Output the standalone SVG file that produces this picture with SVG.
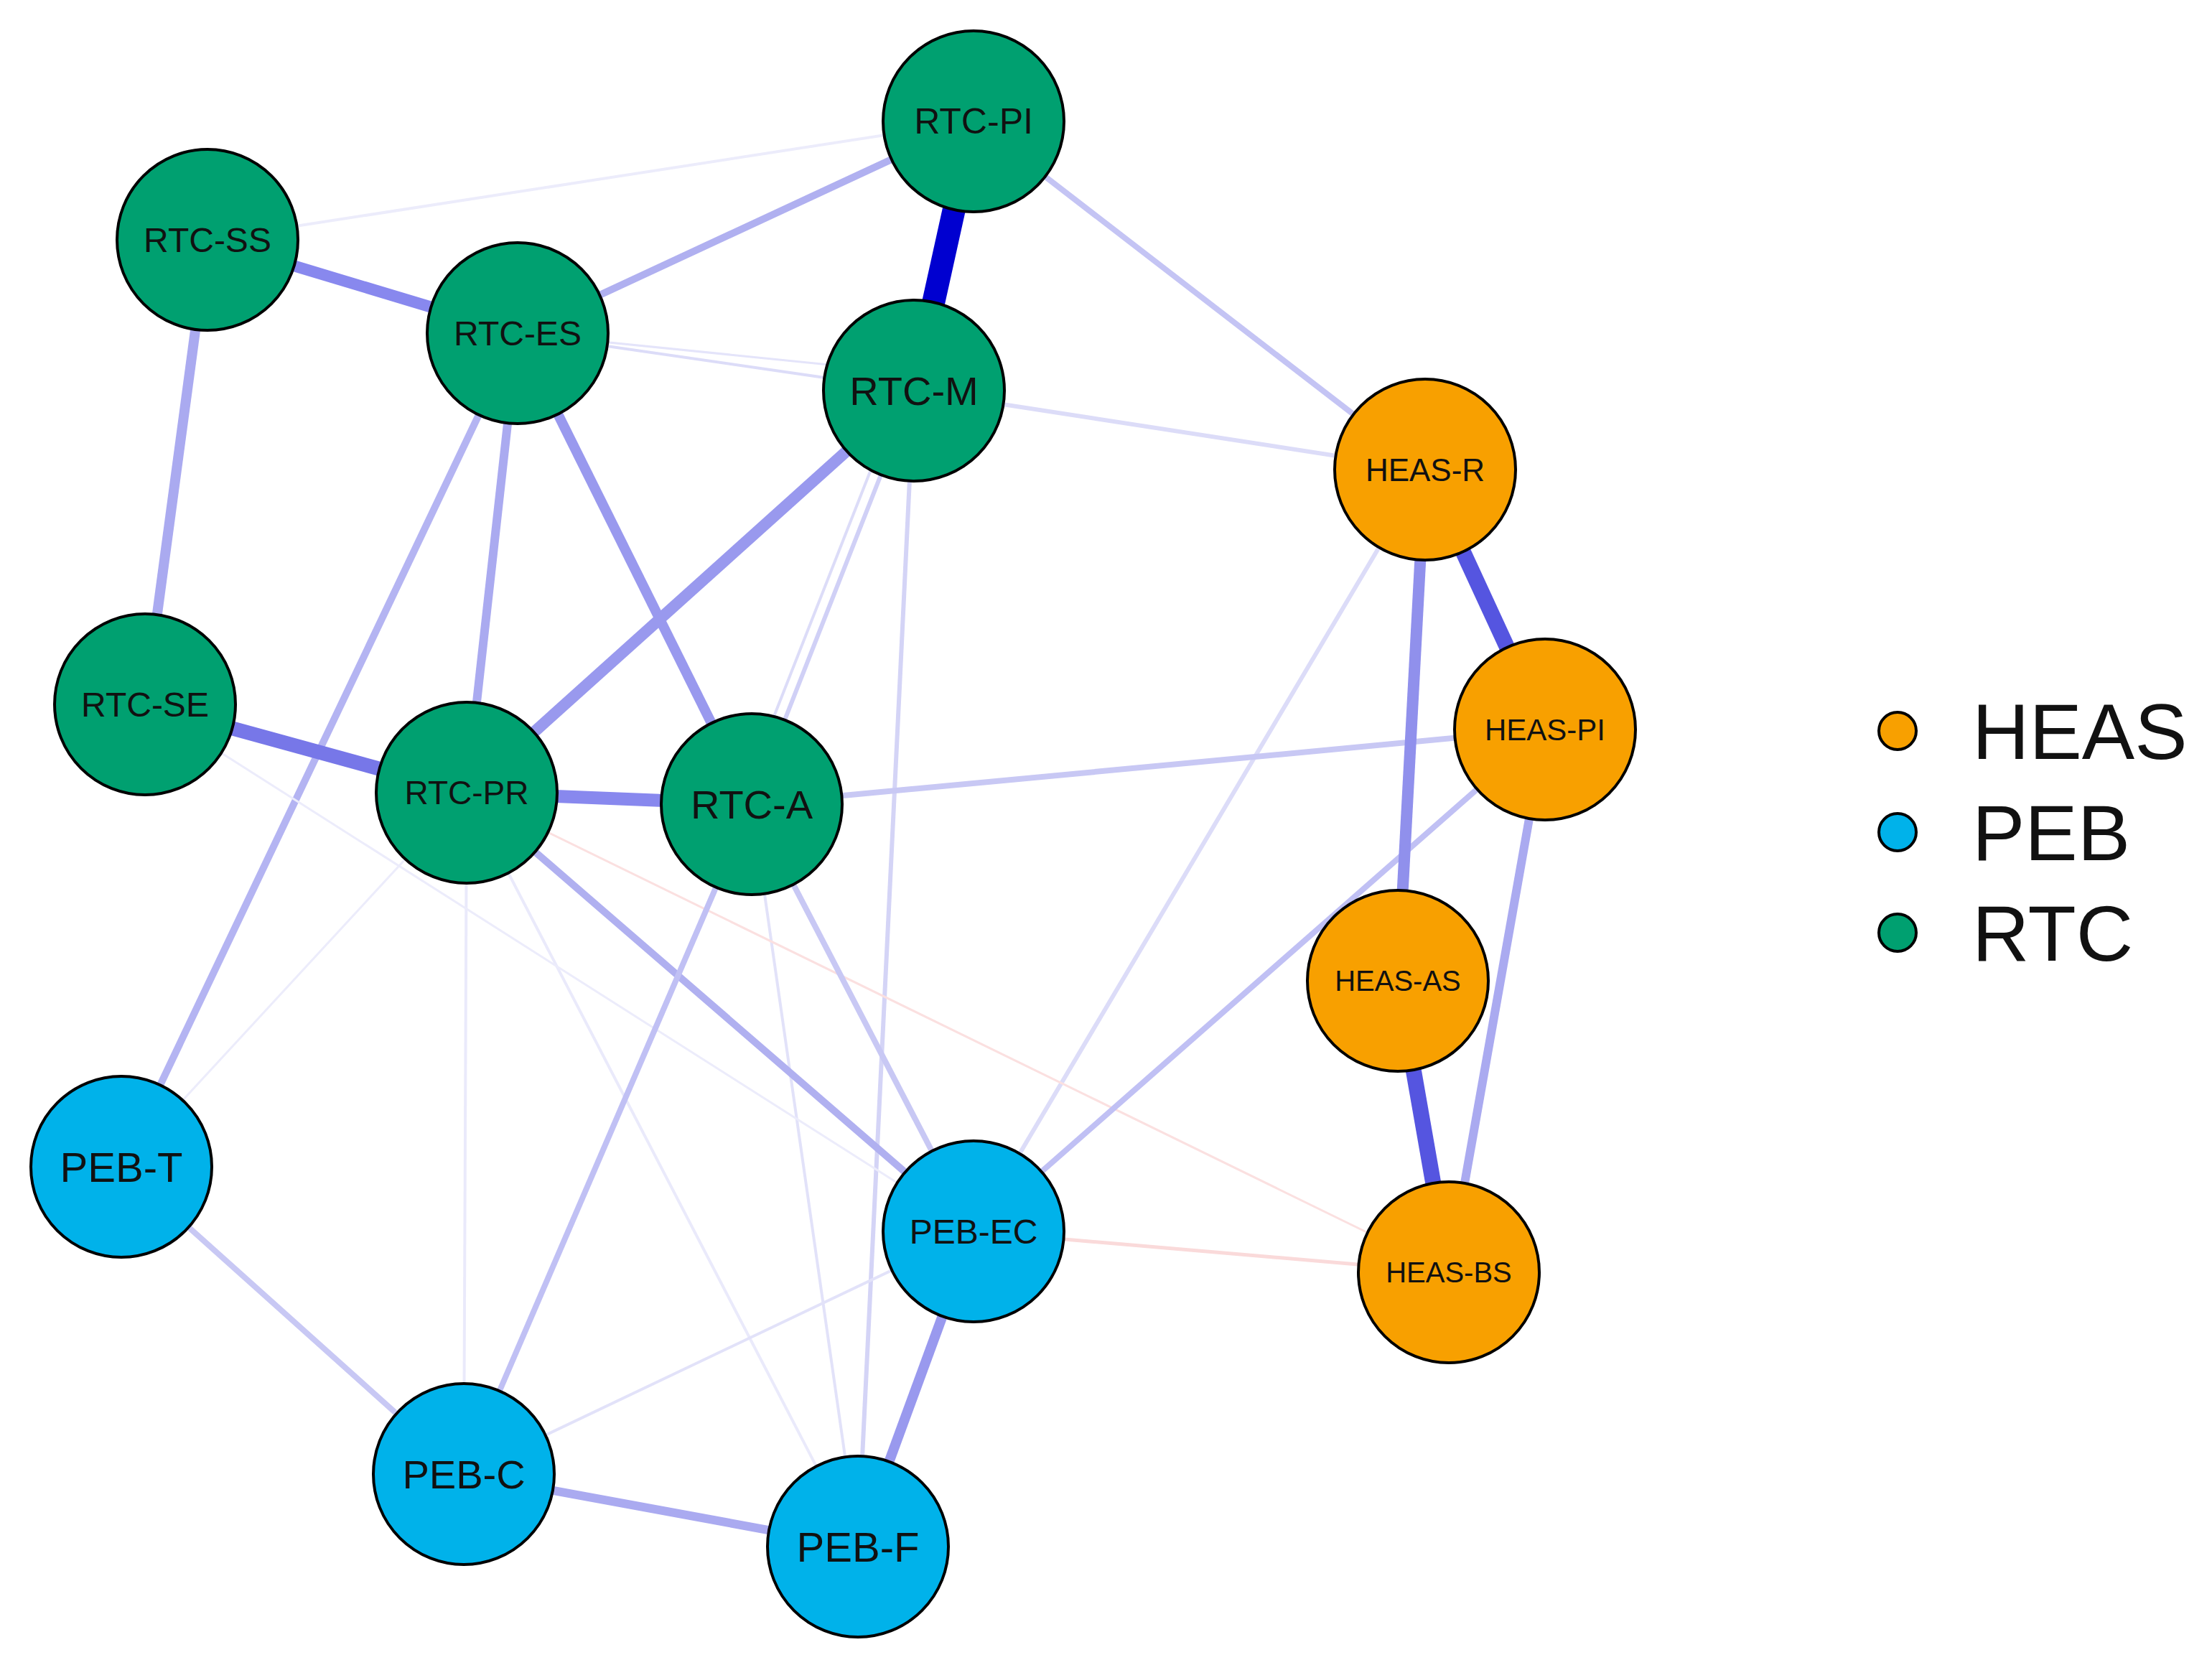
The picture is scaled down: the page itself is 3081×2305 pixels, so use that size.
<svg xmlns="http://www.w3.org/2000/svg" width="3081" height="2305" viewBox="0 0 3081 2305">
<style>
.n circle{stroke:#000;stroke-width:4}
.g{fill:#00A070}.b{fill:#00B2EA}.o{fill:#F8A000}
text{font-family:Arial,"Liberation Sans",sans-serif;fill:#111;text-anchor:middle;dominant-baseline:central}
.e line{stroke-linecap:butt}
</style>
<rect width="3081" height="2305" fill="#fff"/>
<g class="e" id="connectors">
<line x1="289" y1="334" x2="1356" y2="169" stroke="#ececfb" stroke-width="4"/>
<line x1="721" y1="464" x2="1273" y2="544" stroke="#dcdcf8" stroke-width="4"/>
<line x1="721" y1="464" x2="1273" y2="520" stroke="#e4e4fa" stroke-width="3"/>
<line x1="1273" y1="544" x2="1985" y2="654" stroke="#dcdcf8" stroke-width="6"/>
<line x1="1985" y1="654" x2="1356" y2="1715" stroke="#dcdcf8" stroke-width="6"/>
<line x1="1273" y1="544" x2="1195" y2="2154" stroke="#d4d4f6" stroke-width="6"/>
<line x1="1273" y1="544" x2="1047" y2="1120" stroke="#d0d0f6" stroke-width="6"/>
<line x1="1250" y1="560" x2="1030" y2="1120" stroke="#dcdcf8" stroke-width="4"/>
<line x1="650" y1="1104" x2="646" y2="2053" stroke="#eaeafb" stroke-width="4"/>
<line x1="650" y1="1104" x2="1195" y2="2154" stroke="#eaeafb" stroke-width="4"/>
<line x1="1047" y1="1120" x2="1195" y2="2154" stroke="#e2e2f9" stroke-width="4"/>
<line x1="646" y1="2053" x2="1356" y2="1715" stroke="#e2e2f9" stroke-width="4"/>
<line x1="169" y1="1625" x2="721" y2="464" stroke="#b4b4f2" stroke-width="10"/>
<line x1="169" y1="1625" x2="650" y2="1104" stroke="#ececfb" stroke-width="3"/>
<line x1="202" y1="981" x2="1356" y2="1715" stroke="#ececfb" stroke-width="3"/>
<line x1="650" y1="1104" x2="2018" y2="1772" stroke="#fbe0e0" stroke-width="3"/>
<line x1="1356" y1="1715" x2="2018" y2="1772" stroke="#fadada" stroke-width="5"/>
<line x1="1356" y1="169" x2="1985" y2="654" stroke="#c4c4f4" stroke-width="8"/>
<line x1="1356" y1="169" x2="721" y2="464" stroke="#b0b0f0" stroke-width="10"/>
<line x1="289" y1="334" x2="721" y2="464" stroke="#8888ee" stroke-width="16"/>
<line x1="289" y1="334" x2="202" y2="981" stroke="#aaaaf0" stroke-width="14"/>
<line x1="202" y1="981" x2="650" y2="1104" stroke="#7777e8" stroke-width="20"/>
<line x1="650" y1="1104" x2="1047" y2="1120" stroke="#8888ee" stroke-width="18"/>
<line x1="721" y1="464" x2="1047" y2="1120" stroke="#9999ee" stroke-width="14"/>
<line x1="721" y1="464" x2="650" y2="1104" stroke="#aaaaf0" stroke-width="12"/>
<line x1="1273" y1="544" x2="650" y2="1104" stroke="#9999ee" stroke-width="16"/>
<line x1="650" y1="1104" x2="1356" y2="1715" stroke="#b0b0f0" stroke-width="10"/>
<line x1="1047" y1="1120" x2="646" y2="2053" stroke="#c0c0f4" stroke-width="8"/>
<line x1="1047" y1="1120" x2="2152" y2="1016" stroke="#c8c8f4" stroke-width="8"/>
<line x1="1047" y1="1120" x2="1356" y2="1715" stroke="#c8c8f4" stroke-width="8"/>
<line x1="2152" y1="1016" x2="1356" y2="1715" stroke="#c0c0f4" stroke-width="8"/>
<line x1="169" y1="1625" x2="646" y2="2053" stroke="#c8c8f4" stroke-width="8"/>
<line x1="646" y1="2053" x2="1195" y2="2154" stroke="#aaaaf0" stroke-width="12"/>
<line x1="1356" y1="1715" x2="1195" y2="2154" stroke="#9999ee" stroke-width="14"/>
<line x1="1356" y1="169" x2="1273" y2="544" stroke="#0000D0" stroke-width="32"/>
<line x1="1985" y1="654" x2="2152" y2="1016" stroke="#5555e0" stroke-width="22"/>
<line x1="1985" y1="654" x2="1947" y2="1366" stroke="#9090ec" stroke-width="16"/>
<line x1="1947" y1="1366" x2="2018" y2="1772" stroke="#5555e0" stroke-width="22"/>
<line x1="2152" y1="1016" x2="2018" y2="1772" stroke="#aaaaf0" stroke-width="12"/>
</g>
<g class="n" id="RTC-PI"><circle class="g" cx="1356" cy="169" r="126"/><text x="1356" y="169" font-size="50">RTC-PI</text></g>
<g class="n" id="RTC-SS"><circle class="g" cx="289" cy="334" r="126"/><text x="289" y="334" font-size="48">RTC-SS</text></g>
<g class="n" id="RTC-ES"><circle class="g" cx="721" cy="464" r="126"/><text x="721" y="464" font-size="48">RTC-ES</text></g>
<g class="n" id="RTC-M"><circle class="g" cx="1273" cy="544" r="126"/><text x="1273" y="544" font-size="56">RTC-M</text></g>
<g class="n" id="RTC-SE"><circle class="g" cx="202" cy="981" r="126"/><text x="202" y="981" font-size="48">RTC-SE</text></g>
<g class="n" id="RTC-PR"><circle class="g" cx="650" cy="1104" r="126"/><text x="650" y="1104" font-size="46">RTC-PR</text></g>
<g class="n" id="RTC-A"><circle class="g" cx="1047" cy="1120" r="126"/><text x="1047" y="1120" font-size="56">RTC-A</text></g>
<g class="n" id="HEAS-R"><circle class="o" cx="1985" cy="654" r="126"/><text x="1985" y="654" font-size="44">HEAS-R</text></g>
<g class="n" id="HEAS-PI"><circle class="o" cx="2152" cy="1016" r="126"/><text x="2152" y="1016" font-size="42">HEAS-PI</text></g>
<g class="n" id="HEAS-AS"><circle class="o" cx="1947" cy="1366" r="126"/><text x="1947" y="1366" font-size="40">HEAS-AS</text></g>
<g class="n" id="HEAS-BS"><circle class="o" cx="2018" cy="1772" r="126"/><text x="2018" y="1772" font-size="40">HEAS-BS</text></g>
<g class="n" id="PEB-T"><circle class="b" cx="169" cy="1625" r="126"/><text x="169" y="1625" font-size="58">PEB-T</text></g>
<g class="n" id="PEB-EC"><circle class="b" cx="1356" cy="1715" r="126"/><text x="1356" y="1715" font-size="48">PEB-EC</text></g>
<g class="n" id="PEB-C"><circle class="b" cx="646" cy="2053" r="126"/><text x="646" y="2053" font-size="56">PEB-C</text></g>
<g class="n" id="PEB-F"><circle class="b" cx="1195" cy="2154" r="126"/><text x="1195" y="2154" font-size="58">PEB-F</text></g>
<g id="legend" class="n">
<circle class="o" cx="2643" cy="1018" r="26"/><text x="2747" y="1018" font-size="110" style="text-anchor:start">HEAS</text>
<circle class="b" cx="2643" cy="1159" r="26"/><text x="2747" y="1159" font-size="110" style="text-anchor:start">PEB</text>
<circle class="g" cx="2643" cy="1299" r="26"/><text x="2747" y="1299" font-size="110" style="text-anchor:start">RTC</text>
</g>
</svg>
